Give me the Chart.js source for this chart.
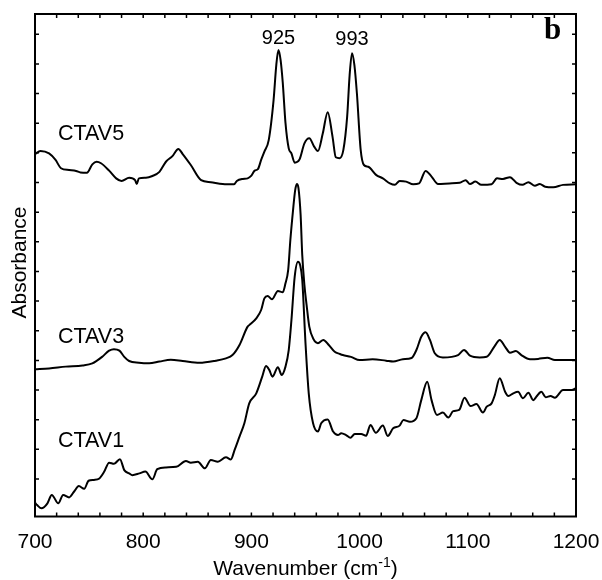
<!DOCTYPE html>
<html>
<head>
<meta charset="utf-8">
<script src="https://cdn.jsdelivr.net/npm/chart.js@4"></script>
<style>
  html, body { margin: 0; padding: 0; background: #fff; }
  #wrap { width: 602px; height: 580px; }
</style>
</head>
<body>
<div id="wrap"><canvas id="spectra" width="602" height="580"></canvas></div>
<script>
// x axis: wavenumber (cm-1), y axis: absorbance (offset traces, arbitrary units)
const xMin = 700, xMax = 1200;
const yMin = -0.1265, yMax = 1.5683;
const xLabelTicks = [700, 800, 900, 1000, 1100, 1200];
const xMinorStep = 20;
const yTicks = [0, 0.1, 0.2, 0.3, 0.4, 0.5, 0.6, 0.7, 0.8, 0.9, 1.0, 1.1, 1.2, 1.3, 1.4, 1.5];

const seriesNames = ['CTAV5', 'CTAV3', 'CTAV1'];
const peakLabels = [925, 993];

// CTAV5 (top trace)
const ctav5Wn = [700, 705, 713, 719, 724, 731.5, 738, 742, 748, 753, 757, 761, 768.5, 775, 780, 787, 792.5, 794, 796,
  802.5, 808.5, 815, 821, 827, 832.5, 836.5, 844, 853.5, 862.5, 873.5, 884, 886.5, 892, 896.5, 900, 903, 906, 909,
  912, 916, 920.5, 923, 925, 927, 929, 931.5, 934.5, 937, 940, 944.5, 949, 953.5, 958, 961.5, 966, 970.5, 975, 978,
  981.5, 985, 988.5, 990.8, 993, 995.2, 997.5, 1001, 1004, 1008, 1015.5, 1021.5, 1028, 1032.5, 1037, 1043, 1049.5,
  1055, 1061, 1066.5, 1072.5, 1083, 1092.5, 1098, 1102, 1107, 1112.5, 1122, 1127, 1132.5, 1139, 1145, 1150.5, 1156,
  1162, 1166.5, 1171.5, 1179, 1188, 1200];
const ctav5Abs = [1.096, 1.106, 1.098, 1.076, 1.048, 1.042, 1.039, 1.034, 1.033, 1.061, 1.070, 1.065, 1.040, 1.014,
  1.005, 1.016, 1.008, 0.995, 1.014, 1.016, 1.022, 1.036, 1.070, 1.089, 1.113, 1.096, 1.059, 1.008, 1.001, 0.995,
  0.994, 1.005, 1.012, 1.014, 1.023, 1.040, 1.045, 1.076, 1.104, 1.143, 1.278, 1.396, 1.447, 1.413, 1.336, 1.201,
  1.115, 1.098, 1.067, 1.078, 1.132, 1.149, 1.121, 1.106, 1.166, 1.237, 1.154, 1.085, 1.082, 1.110, 1.222, 1.363,
  1.436, 1.396, 1.301, 1.110, 1.059, 1.053, 1.025, 1.014, 0.997, 0.992, 1.005, 1.003, 0.994, 0.997, 1.039, 1.020,
  0.995, 0.997, 0.999, 1.008, 0.995, 1.003, 0.992, 0.994, 1.014, 1.012, 1.018, 0.999, 0.992, 1.001, 0.989, 0.995,
  0.986, 0.984, 0.992, 0.994];

// CTAV3 (middle trace)
const ctav3Wn = [700, 713, 728.5, 744, 753, 762, 768.5, 773, 778, 782.5, 787, 796, 805.5, 815, 825.5, 836.5, 852,
  867, 876.5, 882.5, 889, 896.5, 898, 904.5, 909, 912, 915, 919, 924.5, 929, 931.5, 934, 936, 938.5, 940.5, 942,
  943.5, 945.5, 947, 949, 951, 953.5, 957.5, 961.5, 966.5, 971.5, 977, 981.5, 984.5, 992, 1000, 1012, 1024.5, 1031,
  1040, 1048, 1052.5, 1057, 1061, 1065, 1069.5, 1077, 1091, 1096.5, 1102, 1111, 1117.5, 1125, 1129.5, 1134.5, 1139,
  1144.5, 1149.5, 1157.5, 1165, 1173.5, 1180.5, 1191.5, 1200];
const ctav3Abs = [0.370, 0.373, 0.379, 0.383, 0.390, 0.412, 0.433, 0.438, 0.433, 0.412, 0.398, 0.392, 0.390, 0.396,
  0.402, 0.398, 0.392, 0.399, 0.407, 0.418, 0.452, 0.514, 0.519, 0.542, 0.570, 0.609, 0.617, 0.606, 0.634, 0.630,
  0.660, 0.705, 0.806, 0.907, 0.975, 0.995, 0.981, 0.890, 0.755, 0.654, 0.587, 0.514, 0.471, 0.458, 0.469, 0.452,
  0.429, 0.422, 0.418, 0.412, 0.401, 0.404, 0.399, 0.396, 0.404, 0.408, 0.435, 0.480, 0.495, 0.469, 0.424, 0.410,
  0.418, 0.435, 0.416, 0.410, 0.412, 0.449, 0.469, 0.446, 0.426, 0.432, 0.418, 0.404, 0.405, 0.409, 0.401, 0.401,
  0.401];

// CTAV1 (bottom trace)
const ctav1Wn = [700, 702, 706, 711.5, 715.5, 721.5, 726, 731.5, 736, 740.5, 745.5, 749.5, 754.5, 759.5, 764, 768.5,
  773, 778.5, 782.5, 787, 790, 796.5, 802, 808.5, 813, 821, 830.5, 839.5, 844, 850.5, 857, 862.5, 869, 876.5, 881,
  884.5, 889, 893.5, 898, 904.5, 910, 913.5, 916.5, 919.5, 924.5, 928, 931.5, 934.5, 937, 940, 943, 945, 947, 950,
  953, 957, 961.5, 964.5, 970.5, 975.5, 980, 983, 987.5, 991.5, 995.5, 1001.5, 1006, 1010, 1015, 1021.5, 1026, 1031,
  1037, 1040.5, 1046.5, 1052.5, 1057, 1062.5, 1066.5, 1071.5, 1077, 1082, 1086.5, 1092, 1097, 1102.5, 1108, 1114,
  1117.5, 1122, 1125, 1129.5, 1134.5, 1137.5, 1142, 1146.5, 1151, 1156, 1160.5, 1163.5, 1168, 1172, 1176.5, 1180.5,
  1188, 1196, 1200];
const ctav1Abs = [-0.080, -0.088, -0.099, -0.082, -0.054, -0.082, -0.054, -0.062, -0.043, -0.024, -0.033, -0.006,
  -0.003, 0.002, 0.025, 0.055, 0.051, 0.067, 0.030, 0.019, 0.013, 0.019, 0.025, -0.001, 0.033, 0.039, 0.041, 0.061,
  0.055, 0.058, 0.036, 0.064, 0.058, 0.073, 0.066, 0.098, 0.143, 0.188, 0.255, 0.289, 0.345, 0.381, 0.368, 0.345,
  0.377, 0.351, 0.379, 0.435, 0.536, 0.682, 0.733, 0.722, 0.671, 0.458, 0.289, 0.188, 0.160, 0.188, 0.201, 0.160,
  0.148, 0.154, 0.148, 0.139, 0.152, 0.152, 0.146, 0.182, 0.156, 0.180, 0.145, 0.171, 0.180, 0.199, 0.193, 0.205,
  0.266, 0.328, 0.266, 0.216, 0.224, 0.207, 0.229, 0.233, 0.274, 0.246, 0.253, 0.224, 0.244, 0.255, 0.283, 0.340,
  0.294, 0.280, 0.289, 0.294, 0.272, 0.291, 0.266, 0.278, 0.294, 0.276, 0.280, 0.274, 0.300, 0.300, 0.306];

function toPoints(wn, abs) {
  return wn.map((x, i) => ({ x: x, y: abs[i] }));
}

function trace(label, wn, abs) {
  return {
    label: label,
    data: toPoints(wn, abs),
    borderColor: '#000',
    borderWidth: 2,
    pointRadius: 0,
    fill: false,
    cubicInterpolationMode: 'monotone'
  };
}

const SANS = '"Liberation Sans", Arial, Helvetica, sans-serif';

// box with inward ticks on all four sides, axis text and trace labels
const spectrumFrame = {
  id: 'spectrumFrame',
  afterDraw(chart) {
    const ctx = chart.ctx;
    const a = chart.chartArea;
    const x = chart.scales.x, y = chart.scales.y;
    ctx.save();
    ctx.strokeStyle = '#000';
    ctx.fillStyle = '#000';
    ctx.lineWidth = 2;
    ctx.strokeRect(a.left, a.top, a.right - a.left, a.bottom - a.top);

    ctx.lineWidth = 1.5;
    ctx.beginPath();
    for (let v = xMin; v <= xMax; v += xMinorStep) {
      const px = x.getPixelForValue(v);
      ctx.moveTo(px, a.bottom); ctx.lineTo(px, a.bottom - 4);
      ctx.moveTo(px, a.top); ctx.lineTo(px, a.top + 4);
    }
    yTicks.forEach(v => {
      const py = y.getPixelForValue(v);
      ctx.moveTo(a.left, py); ctx.lineTo(a.left + 4, py);
      ctx.moveTo(a.right, py); ctx.lineTo(a.right - 4, py);
    });
    ctx.stroke();

    // x tick labels
    ctx.font = '21px ' + SANS;
    ctx.textAlign = 'center';
    ctx.textBaseline = 'alphabetic';
    xLabelTicks.forEach(v => ctx.fillText(String(v), x.getPixelForValue(v), 548));

    // x title with superscript
    const t1 = 'Wavenumber (cm', t2 = '-1', t3 = ')';
    ctx.font = '21px ' + SANS;
    const w1 = ctx.measureText(t1).width, w3 = ctx.measureText(t3).width;
    ctx.font = '14px ' + SANS;
    const w2 = ctx.measureText(t2).width;
    let sx = (a.left + a.right) / 2 - (w1 + w2 + w3) / 2;
    ctx.textAlign = 'left';
    ctx.font = '21px ' + SANS;
    ctx.fillText(t1, sx, 575);
    ctx.font = '14px ' + SANS;
    ctx.fillText(t2, sx + w1, 567);
    ctx.font = '21px ' + SANS;
    ctx.fillText(t3, sx + w1 + w2, 575);

    // y title
    ctx.save();
    ctx.translate(25.5, 262.5);
    ctx.rotate(-Math.PI / 2);
    ctx.textAlign = 'center';
    ctx.fillText('Absorbance', 0, 0);
    ctx.restore();

    // trace labels
    ctx.textAlign = 'left';
    ctx.font = '21.5px ' + SANS;
    ctx.fillText(seriesNames[0], 58, 140);
    ctx.fillText(seriesNames[1], 58, 342.5);
    ctx.fillText(seriesNames[2], 58, 447);

    // peak positions
    ctx.textAlign = 'center';
    ctx.font = '20px ' + SANS;
    ctx.fillText(String(peakLabels[0]), x.getPixelForValue(peakLabels[0]), 43.5);
    ctx.fillText(String(peakLabels[1]), x.getPixelForValue(peakLabels[1]), 45);

    // panel letter
    ctx.textAlign = 'left';
    ctx.font = 'bold 31px "Liberation Serif", "Times New Roman", serif';
    ctx.fillText('b', 544, 38.5);
    ctx.restore();
  }
};

new Chart(document.getElementById('spectra'), {
  type: 'line',
  data: {
    datasets: [
      trace(seriesNames[0], ctav5Wn, ctav5Abs),
      trace(seriesNames[1], ctav3Wn, ctav3Abs),
      trace(seriesNames[2], ctav1Wn, ctav1Abs)
    ]
  },
  options: {
    responsive: false,
    animation: false,
    devicePixelRatio: 1,
    layout: { padding: { left: 35, top: 14, right: 26, bottom: 63.5 } },
    plugins: { legend: { display: false }, tooltip: { enabled: false } },
    scales: {
      x: { type: 'linear', min: xMin, max: xMax, display: false },
      y: { type: 'linear', min: yMin, max: yMax, display: false }
    }
  },
  plugins: [spectrumFrame]
});
</script>
</body>
</html>
